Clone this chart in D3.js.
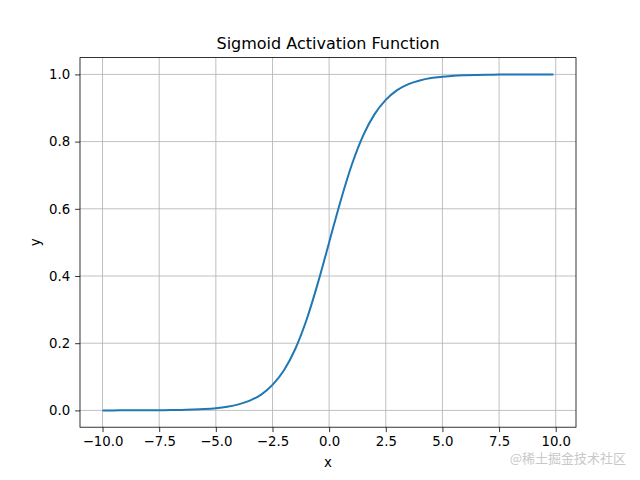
<!DOCTYPE html>
<html><head><meta charset="utf-8">
<script src="https://cdn.jsdelivr.net/npm/d3@7"></script>
<style>body{margin:0;background:#fff}</style>
</head><body>
<svg id="c" width="640" height="480"></svg>
<script>
const xs = [-10,-9.5,-9,-8.5,-8,-7.5,-7,-6.5,-6,-5.5,-5,-4.5,-4,-3.5,-3,-2.5,-2,-1.5,-1,-0.5,0,0.5,1,1.5,2,2.5,3,3.5,4,4.5,5,5.5,6,6.5,7,7.5,8,8.5,9,9.5,9.9];
const ys = [0.00005,0.00007,0.00012,0.0002,0.00034,0.00055,0.0009,0.0015,0.0025,0.0041,0.0067,0.011,0.018,0.029,0.047,0.076,0.119,0.182,0.269,0.378,0.5,0.622,0.731,0.818,0.881,0.924,0.953,0.971,0.982,0.989,0.993,0.996,0.9975,0.9985,0.999,0.9994,0.9997,0.9998,0.9999,0.9999,1.0];
const xTicks = [-10,-7.5,-5,-2.5,0,2.5,5,7.5,10];
const yTicks = [0,0.2,0.4,0.6,0.8,1.0];
const title = "Sigmoid Activation Function";

const svg = d3.select("#c");
const L=80,R=576,T=57.6,B=427.2;
const x = d3.scaleLinear().domain([-10.995,10.895]).range([L,R]);
const y = d3.scaleLinear().domain([-0.05,1.05]).range([B,T]);
const fmt = v => d3.format(".1f")(v).replace("-","\u2212");
const font = "DejaVu Sans, sans-serif";

const g = svg.append("g");
g.selectAll(".gx").data(xTicks).join("line").attr("x1",d=>x(d)).attr("x2",d=>x(d)).attr("y1",T).attr("y2",B).attr("stroke","#b0b0b0").attr("stroke-width",0.8);
g.selectAll(".gy").data(yTicks).join("line").attr("y1",d=>y(d)).attr("y2",d=>y(d)).attr("x1",L).attr("x2",R).attr("stroke","#b0b0b0").attr("stroke-width",0.8);

const pts = xs.map((v,i)=>[v,ys[i]]);
svg.append("path").datum(pts).attr("fill","none").attr("stroke","#1f77b4").attr("stroke-width",2)
  .attr("d", d3.line().x(d=>x(d[0])).y(d=>y(d[1])).curve(d3.curveMonotoneX));

const ax = svg.append("g").attr("transform",`translate(0,${B})`)
  .call(d3.axisBottom(x).tickValues(xTicks).tickFormat(fmt).tickSize(4.9).tickPadding(4.9));
const ay = svg.append("g").attr("transform",`translate(${L},0)`)
  .call(d3.axisLeft(y).tickValues(yTicks).tickFormat(d=>d3.format(".1f")(d)).tickSize(4.9).tickPadding(4.9));
[ax,ay].forEach(a=>{a.select(".domain").remove();a.selectAll("text").attr("font-family",font).attr("font-size",13.3).attr("fill","#000");a.selectAll("line").attr("stroke","#000").attr("stroke-width",0.8);});
svg.append("rect").attr("x",L).attr("y",T).attr("width",R-L).attr("height",B-T).attr("fill","none").attr("stroke","#000").attr("stroke-width",0.8);

svg.append("text").attr("x",(L+R)/2).attr("y",49).attr("text-anchor","middle").attr("font-family",font).attr("font-size",16).text(title);
svg.append("text").attr("x",(L+R)/2).attr("y",467).attr("text-anchor","middle").attr("font-family",font).attr("font-size",13.3).text("x");
svg.append("text").attr("transform",`translate(40,${(T+B)/2}) rotate(-90)`).attr("text-anchor","middle").attr("font-family",font).attr("font-size",13.3).text("y");
svg.append("text").attr("x",626).attr("y",463).attr("text-anchor","end").attr("font-family","Noto Sans CJK SC, sans-serif").attr("font-size",13).attr("fill","#c8c8c8").text("@稀土掘金技术社区");
</script>
</body></html>
